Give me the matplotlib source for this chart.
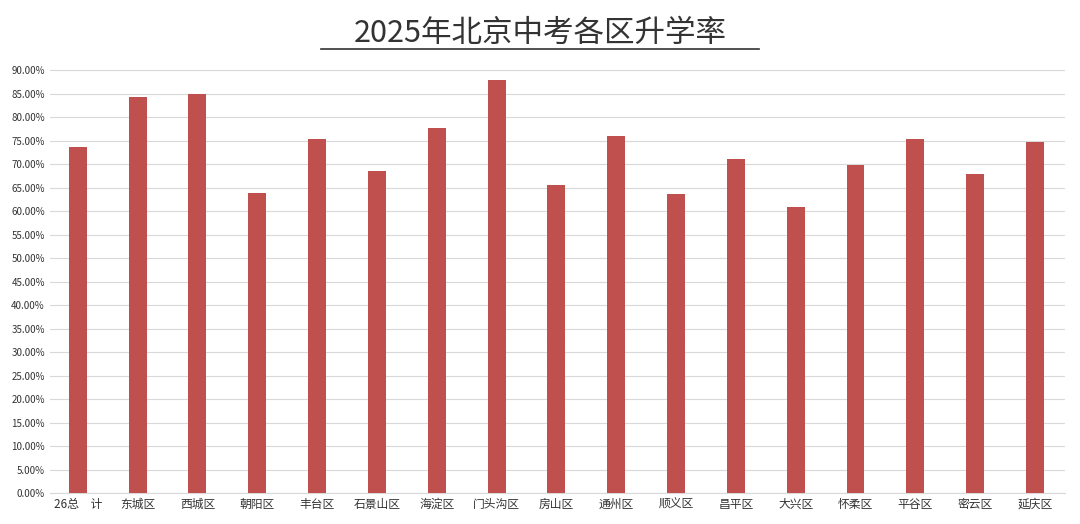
import matplotlib.pyplot as plt
from matplotlib.ticker import PercentFormatter

plt.rcParams['font.family'] = ['Noto Sans CJK SC', 'DejaVu Sans']

districts = ["26总　计", "东城区", "西城区", "朝阳区", "丰台区", "石景山区", "海淀区", "门头沟区",
             "房山区", "通州区", "顺义区", "昌平区", "大兴区", "怀柔区", "平谷区", "密云区", "延庆区"]
rates = [73.6, 84.3, 84.9, 63.8, 75.5, 68.5, 77.7, 87.9,
         65.7, 76.0, 63.6, 71.1, 60.9, 69.8, 75.5, 67.9, 74.7]

fig = plt.figure(figsize=(10.8, 5.24), dpi=100)
ax = fig.add_axes([0.046, 0.059, 0.94, 0.811])
ax.bar(range(len(districts)), rates, width=0.3, color="#c0504d", zorder=3)

ax.set_ylim(0, 90.5)
ax.set_xlim(-0.47, 16.5)
ax.yaxis.set_major_formatter(PercentFormatter(decimals=2))
ax.set_yticks([i * 5 for i in range(19)])
ax.grid(axis="y", color="#d9d9d9", linewidth=0.8, zorder=0)
for s in ["top", "right", "left"]:
    ax.spines[s].set_visible(False)
ax.spines["bottom"].set_color("#d9d9d9")
ax.tick_params(axis="both", length=0, labelsize=7, colors="#333333")
ax.set_xticks(range(len(districts)))
ax.set_xticklabels(districts, fontsize=8.5)

fig.text(0.5, 0.937, "2025年北京中考各区升学率", ha="center", va="center",
         fontsize=22, color="#333333")
fig.add_artist(plt.Line2D([0.297, 0.703], [0.907, 0.907], color="#333333", linewidth=1.2))

fig.savefig("out.png", dpi=100, facecolor="white")
